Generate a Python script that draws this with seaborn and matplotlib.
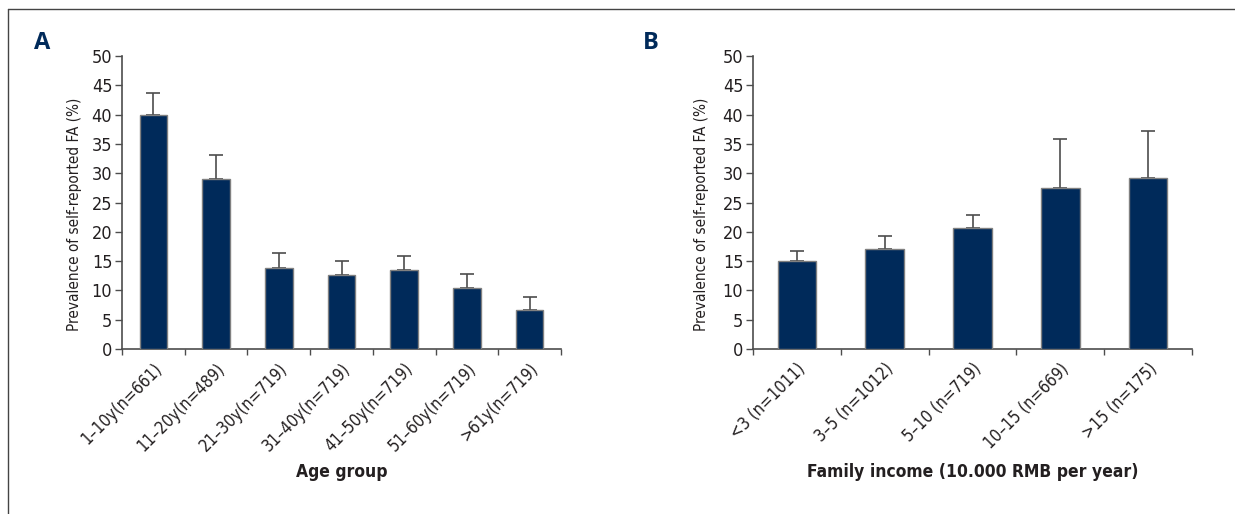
#!/usr/bin/env python3
"""Prevalence of self-reported FA by age group and family income."""

import matplotlib

matplotlib.use("Agg")
import matplotlib.pyplot as plt
from matplotlib.lines import Line2D
import pandas as pd
import seaborn as sns

AGE_GROUPS = ["1–10y(n=661)", "11–20y(n=489)", "21–30y(n=719)", "31–40y(n=719)",
              "41–50y(n=719)", "51–60y(n=719)", ">61y(n=719)"]
AGE_PREV = [39.9, 29.0, 13.8, 12.6, 13.5, 10.4, 6.6]
AGE_ERR_TOP = [43.7, 33.1, 16.4, 15.1, 15.9, 12.8, 8.9]

INCOME_GROUPS = ["<3 (n=1011)", "3–5 (n=1012)", "5–10 (n=719)", "10–15 (n=669)", ">15 (n=175)"]
INCOME_PREV = [15.0, 17.1, 20.6, 27.5, 29.2]
INCOME_ERR_TOP = [16.8, 19.3, 22.8, 35.8, 37.2]

BAR_COLOR = "#002a5a"
TEXT_COLOR = "#231f20"
LINE_COLOR = "#4d4d4d"
FONT = ["DejaVu Sans"]
STRETCH = "condensed"


def draw_panel(ax, cats, vals, err_top, xlabel, letter, letter_x, ylabel_x):
    df = pd.DataFrame({"cat": cats, "val": vals})
    sns.barplot(data=df, x="cat", y="val", color=BAR_COLOR, width=0.44,
                edgecolor="#808080", linewidth=1.0, saturation=1, ax=ax, zorder=3)
    # upper-only error bars
    upper = [t - v for t, v in zip(err_top, vals)]
    ax.errorbar(range(len(cats)), vals, yerr=[[0] * len(vals), upper], fmt="none",
                ecolor=LINE_COLOR, elinewidth=1.2, capsize=5, capthick=1.2, zorder=2)

    n = len(cats)
    ax.set_xlim(-0.5, n - 0.5)
    ax.set_ylim(0, 50)
    ax.set_yticks(range(0, 51, 5))
    ax.set_xticks([i - 0.5 for i in range(n + 1)])
    ax.set_xticklabels([])
    ax.set_xticks(range(n), minor=True)
    ax.set_xticklabels(cats, minor=True, rotation=45, ha="right", rotation_mode="anchor",
                       fontsize=12, color=TEXT_COLOR, family=FONT, stretch=STRETCH)
    ax.tick_params(axis="x", which="minor", bottom=True, length=0, pad=8)
    ax.tick_params(axis="x", which="major", bottom=True, length=4.5, width=1,
                   color=LINE_COLOR, direction="out")
    ax.tick_params(axis="y", left=True, length=5, width=1, color=LINE_COLOR, direction="out",
                   labelsize=13, labelcolor=TEXT_COLOR, pad=2)
    for lab in ax.get_yticklabels():
        lab.set_family(FONT)
        lab.set_stretch(STRETCH)

    for side in ("top", "right"):
        ax.spines[side].set_visible(False)
    for side in ("left", "bottom"):
        ax.spines[side].set_color(LINE_COLOR)
        ax.spines[side].set_linewidth(1.2)

    ax.set_ylabel("Prevalence of self-reported FA (%)", fontsize=11, color=TEXT_COLOR,
                  family=FONT, stretch=STRETCH)
    ax.yaxis.set_label_coords(ylabel_x, 0.46)
    ax.set_xlabel(xlabel, fontsize=12.5, fontweight="bold", color=TEXT_COLOR,
                  family=FONT, stretch=STRETCH)
    ax.xaxis.set_label_coords(0.5, -0.39)
    ax.text(letter_x, 1.045, letter, transform=ax.transAxes, fontsize=17, fontweight="bold",
            color=BAR_COLOR, family=["Open Sans", "DejaVu Sans"], ha="left", va="center")


def main() -> None:
    sns.set_theme(style="white")
    plt.rcParams["font.family"] = FONT
    plt.rcParams["font.stretch"] = STRETCH

    fig = plt.figure(figsize=(12.35, 5.14), dpi=100)
    ax_a = fig.add_axes([0.0988, 0.321, 0.3555, 0.570])
    ax_b = fig.add_axes([0.6097, 0.321, 0.3555, 0.570])

    draw_panel(ax_a, AGE_GROUPS, AGE_PREV, AGE_ERR_TOP, "Age group", "A", -0.2, -0.092)
    draw_panel(ax_b, INCOME_GROUPS, INCOME_PREV, INCOME_ERR_TOP,
               "Family income (10.000 RMB per year)", "B", -0.25, -0.101)

    # thin frame at the top and left edge
    fig.add_artist(Line2D([0.0065, 1.0], [0.982, 0.982], transform=fig.transFigure,
                          color="#444444", linewidth=1))
    fig.add_artist(Line2D([0.0065, 0.0065], [0.0, 0.982], transform=fig.transFigure,
                          color="#444444", linewidth=1))

    fig.savefig("out.png", dpi=100)
    plt.close(fig)


if __name__ == "__main__":
    main()
